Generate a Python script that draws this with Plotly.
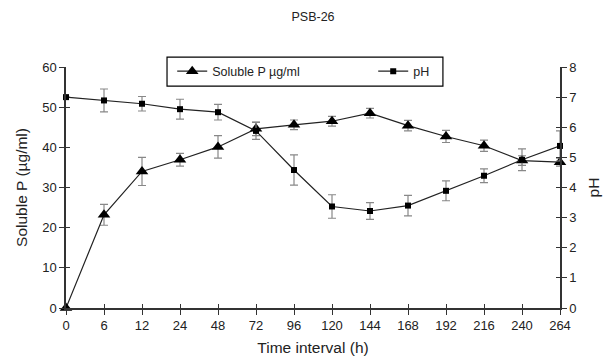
import plotly.graph_objects as go

time_labels = ["0", "6", "12", "24", "48", "72", "96", "120", "144", "168", "192", "216", "240", "264"]
soluble_p = [0, 23.2, 34.0, 36.9, 40.1, 44.6, 45.6, 46.5, 48.5, 45.4, 42.7, 40.4, 36.7, 36.3]
soluble_p_err = [0, 2.6, 3.5, 1.6, 2.8, 1.7, 1.2, 1.2, 1.2, 1.3, 1.5, 1.4, 1.2, 1.0]
ph = [7.0, 6.89, 6.78, 6.6, 6.5, 5.88, 4.58, 3.37, 3.22, 3.4, 3.89, 4.39, 4.92, 5.38]
ph_err = [0.0, 0.38, 0.24, 0.33, 0.26, 0.28, 0.5, 0.39, 0.28, 0.34, 0.33, 0.23, 0.36, 0.5]

FONT = "Liberation Sans, Arial, sans-serif"
fig = go.Figure()

fig.add_trace(go.Scatter(
    x=time_labels, y=soluble_p, name="Soluble P µg/ml", mode="lines+markers",
    line=dict(color="#222", width=1.2),
    marker=dict(symbol="triangle-up", size=11, color="black"),
    error_y=dict(type="data", array=soluble_p_err, color="#888", thickness=1.2, width=4),
    cliponaxis=False, yaxis="y"))
fig.add_trace(go.Scatter(
    x=time_labels, y=ph, name="pH", mode="lines+markers",
    line=dict(color="#222", width=1.2),
    marker=dict(symbol="square", size=6, color="black"),
    error_y=dict(type="data", array=ph_err, color="#888", thickness=1.2, width=4),
    cliponaxis=False, yaxis="y2"))

# empty helper traces so the overlay tick axes (crossing ticks) get drawn
for xa, ya in [("x2", "y"), ("x", "y3"), ("x", "y4")]:
    fig.add_trace(go.Scatter(x=[None], y=[None], xaxis=xa, yaxis=ya, showlegend=False,
                             hoverinfo="skip", mode="markers"))

axis_common = dict(showgrid=False, zeroline=False, showline=True, linecolor="#333", linewidth=1.5,
                   tickcolor="#333", tickwidth=1.2, automargin=False)
overlay_common = dict(showgrid=False, zeroline=False, showline=False, tickcolor="#333",
                      tickwidth=1.2, ticks="inside", ticklen=4, showticklabels=False,
                      automargin=False)

fig.update_layout(
    width=611, height=356, margin=dict(l=66, r=51, t=67, b=48),
    paper_bgcolor="white", plot_bgcolor="white",
    font=dict(family=FONT, size=13, color="#222"),
    title=dict(text="PSB-26", x=0.5, xref="paper", y=0.953, yref="container", xanchor="center",
               yanchor="middle", font=dict(size=12.5, family=FONT, color="#222")),
    showlegend=True,
    legend=dict(orientation="h", x=0.215, y=0.981, xanchor="left", yanchor="middle",
                bgcolor="rgba(0,0,0,0)", borderwidth=0,
                entrywidth=156, entrywidthmode="pixels",
                font=dict(size=12.5, family=FONT, color="#222")),
    shapes=[dict(type="rect", xref="paper", yref="paper", x0=0.2045, x1=0.763, y0=0.921, y1=1.041,
                 line=dict(color="black", width=1.2), fillcolor="white", layer="below")],
    xaxis=dict(type="category", categoryorder="array", categoryarray=time_labels,
               range=[0, 13], ticks="outside", ticklen=5,
               title=dict(text="Time interval (h)", font=dict(size=15.5), standoff=10),
               **axis_common),
    xaxis2=dict(overlaying="x", range=[0, 13], dtick=1, anchor="y", side="bottom", **overlay_common),
    yaxis=dict(range=[0, 60], dtick=10, ticks="outside", ticklen=5,
               title=dict(text="Soluble P (µg/ml)", font=dict(size=15.5), standoff=11),
               **axis_common),
    yaxis2=dict(overlaying="y", side="right", range=[0, 8], dtick=1, ticks="outside", ticklen=5,
                anchor="x", title=dict(text="pH", font=dict(size=15.5), standoff=13),
                **axis_common),
    yaxis3=dict(overlaying="y", side="left", range=[0, 60], dtick=10, anchor="x", **overlay_common),
    yaxis4=dict(overlaying="y", side="right", range=[0, 8], dtick=1, anchor="x", **overlay_common),
)

fig.write_html("out.html")
